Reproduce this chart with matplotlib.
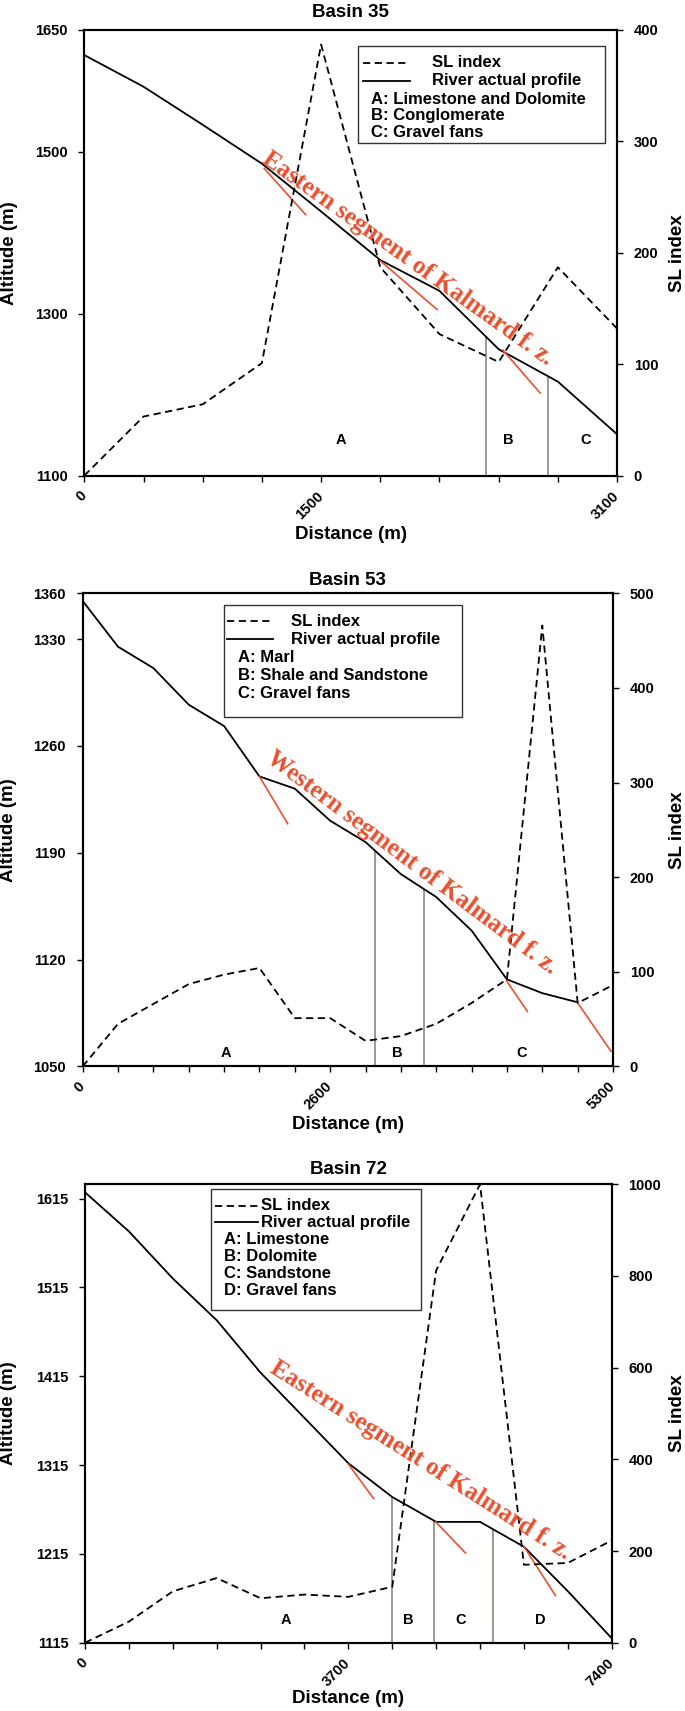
import numpy as np
import matplotlib
matplotlib.use('Agg')
import matplotlib.pyplot as plt
from matplotlib.patches import Rectangle

plt.rcParams['font.family'] = ['Liberation Sans', 'DejaVu Sans']
plt.rcParams['font.weight'] = 'bold'
plt.rcParams['axes.titleweight'] = 'bold'
plt.rcParams['axes.labelweight'] = 'bold'

# ---- Basin 35 ----
dist_35 = ['0', '', '', '', '1500', '', '', '', '', '3100']
alt_35 = [1619, 1580, 1533, 1485, 1426, 1366, 1328, 1256, 1216, 1151]
sl_35 = [0, 53, 64, 101, 387, 187, 127, 102, 187, 132]
bounds_35 = [6.79, 7.83]
letters_35 = ['A', 'B', 'C']
letter_x_35 = [4.34, 7.16, 8.47]
faults_35 = [((3.04, 3.74), (1479, 1422)),
             ((5.0, 5.96), (1365, 1305)),
             ((7.07, 7.70), (1255, 1202))]
legend_35 = ['A: Limestone and Dolomite', 'B: Conglomerate', 'C: Gravel fans']

# ---- Basin 53 ----
dist_53 = ['0', '', '', '', '', '', '', '2600', '', '', '', '', '', '', '', '5300']
alt_53 = [1355, 1325, 1311, 1287, 1273, 1240, 1232, 1211, 1197, 1176, 1161, 1139,
          1107, 1098, 1092, np.nan]
sl_53 = [0, 45, 66, 87, 97, 104, 51, 51, 27, 32, 45, 67, 92, 466, 67, 86]
bounds_53 = [8.27, 9.65]
letters_53 = ['A', 'B', 'C']
letter_x_53 = [4.04, 8.91, 12.43]
faults_53 = [((5.0, 5.80), (1240, 1209)),
             ((11.99, 12.58), (1106, 1086)),
             ((13.99, 14.94), (1092, 1060))]
legend_53 = ['A: Marl', 'B: Shale and Sandstone', 'C: Gravel fans']

# ---- Basin 72 ----
dist_72 = ['0', '', '', '', '', '', '3700', '', '', '', '', '', '7400']
alt_72 = [1622, 1578, 1525, 1478, 1419, 1368, 1317, 1279, 1251, 1251, 1223, 1173, 1120]
sl_72 = [0, 46, 112, 141, 97, 105, 100, 122, 812, 1000, 170, 174, 223]
bounds_72 = [6.99, 7.94, 9.29]
letters_72 = ['A', 'B', 'C', 'D']
letter_x_72 = [4.57, 7.37, 8.56, 10.38]
faults_72 = [((6.0, 6.58), (1316, 1277)),
             ((7.99, 8.67), (1251, 1216)),
             ((9.99, 10.72), (1224, 1168))]
legend_72 = ['A: Limestone', 'B: Dolomite', 'C: Sandstone', 'D: Gravel fans']

RED = '#e9502f'
GREY = '#8f8782'
DASH = (0, (4, 2.5))

fig = plt.figure(figsize=(6.85, 17.11), dpi=100)


def draw_basin(rect, title, dist, alt, sl, alt_lim, alt_ticks, sl_lim, sl_ticks,
               bounds, letters, letter_x, letter_y, faults, fault_label, text_xy, text_rot,
               legend_items, box, hx, tx, lx, rows, title_pad, xlab_y, ylab_x, sllab_x):
    ax = fig.add_axes(rect)
    ax2 = ax.twinx()
    x = np.arange(len(dist))

    # river profile and lithology limits
    ax.plot(x, alt, color='black', lw=1.3, zorder=3)
    ok = ~np.isnan(alt)
    tops = np.interp(bounds, x[ok], np.array(alt)[ok])
    ax.vlines(bounds, alt_lim[0], tops, color=GREY, lw=1.2, zorder=2)
    for (fx, fy) in faults:
        ax.plot(fx, fy, color=RED, lw=1.2, zorder=3)
    for s, lxp in zip(letters, letter_x):
        ax.text(lxp, letter_y, s, ha='center', va='center', fontsize=10.5)

    # SL index
    ax2.plot(x, sl, color='black', lw=1.3, ls=DASH, zorder=3)

    ax2.text(text_xy[0], text_xy[1], fault_label, transform=ax.transAxes,
             color=RED, fontsize=18, family=['Liberation Serif'], weight='bold',
             rotation=text_rot, rotation_mode='anchor', ha='center', va='baseline', zorder=4)

    # legend box
    x0, x1, y0, y1 = box
    ax2.add_patch(Rectangle((x0, y0), x1 - x0, y1 - y0, transform=ax2.transAxes,
                            fc='white', ec='#333333', lw=1.0, zorder=5))
    ax2.plot(hx, [rows[0]] * 2, transform=ax2.transAxes, color='black', lw=1.3,
             ls=DASH, zorder=6)
    ax2.plot(hx, [rows[1]] * 2, transform=ax2.transAxes, color='black', lw=1.3, zorder=6)
    ax2.text(tx, rows[0], 'SL index', transform=ax2.transAxes, va='center', fontsize=12, zorder=7)
    ax2.text(tx, rows[1], 'River actual profile', transform=ax2.transAxes, va='center',
             fontsize=12, zorder=7)
    for r, s in zip(rows[2:], legend_items):
        ax2.text(lx, r, s, transform=ax2.transAxes, va='center', fontsize=12, zorder=7)

    # axes
    ax.set_xlim(0, len(dist) - 1)
    ax.set_ylim(*alt_lim)
    ax2.set_ylim(*sl_lim)
    ax.set_yticks(alt_ticks)
    ax2.set_yticks(sl_ticks)
    ax.set_xticks(x)
    ax.set_xticklabels(dist, rotation=45, ha='right', va='center', rotation_mode='anchor')
    ax.tick_params(axis='x', direction='out', length=4, width=1, pad=9, labelsize=10.5)
    ax.tick_params(axis='y', direction='out', length=4, width=1, pad=8, labelsize=10.5)
    ax2.tick_params(axis='y', direction='out', length=4, width=1, pad=8, labelsize=10.5)
    for a in (ax, ax2):
        for sp in a.spines.values():
            sp.set_linewidth(1.5)
            sp.set_color('black')

    ax.set_title(title, fontsize=13.5, pad=title_pad)
    ax.set_xlabel('Distance (m)', fontsize=13.5)
    ax.xaxis.set_label_coords(0.5, xlab_y)
    ax.xaxis.label.set_va('center')
    ax.set_ylabel('Altitude (m)', fontsize=13.5)
    ax.yaxis.set_label_coords(ylab_x, 0.5)
    ax.yaxis.label.set_va('center')
    ax2.set_ylabel('SL index', fontsize=13.5)
    ax2.yaxis.set_label_coords(sllab_x, 0.5)
    ax2.yaxis.label.set_va('center')


draw_basin([0.1231, 0.72204, 0.7777, 0.26043], 'Basin 35', dist_35, alt_35, sl_35,
           (1100, 1650), [1100, 1300, 1500, 1650], (0, 400), [0, 100, 200, 300, 400],
           bounds_35, letters_35, letter_x_35, 1144, faults_35,
           'Eastern segment of Kalmard f. z.', (0.599, 0.476), -35.5,
           legend_35, (0.513, 0.977, 0.747, 0.964), [0.524, 0.611], 0.653, 0.538,
           [0.9266, 0.886, 0.8445, 0.807, 0.7695], 9, -0.133, -0.141, 1.113)

draw_basin([0.1207, 0.37674, 0.7742, 0.27650], 'Basin 53', dist_53, alt_53, sl_53,
           (1050, 1360), [1050, 1120, 1190, 1260, 1330, 1360], (0, 500),
           [0, 100, 200, 300, 400, 500],
           bounds_53, letters_53, letter_x_53, 1059, faults_53,
           'Western segment of Kalmard f. z.', (0.614, 0.419), -36.8,
           legend_53, (0.266, 0.716, 0.739, 0.976), [0.272, 0.359], 0.392, 0.293,
           [0.9406, 0.9028, 0.8652, 0.8265, 0.789], 6, -0.122, -0.1395, 1.121)

draw_basin([0.12409, 0.03992, 0.76891, 0.26791], 'Basin 72', dist_72, alt_72, sl_72,
           (1115, 1631), [1115, 1215, 1315, 1415, 1515, 1615], (0, 1000),
           [0, 200, 400, 600, 800, 1000],
           bounds_72, letters_72, letter_x_72, 1141, faults_72,
           'Eastern segment of Kalmard f. z.', (0.630, 0.3855), -32.4,
           legend_72, (0.2385, 0.637, 0.7267, 0.99), [0.2466, 0.328], 0.3345, 0.264,
           [0.9529, 0.9167, 0.8787, 0.8418, 0.8047, 0.7679], 7.5, -0.122, -0.145, 1.124)

fig.savefig('out.png', dpi=100)
